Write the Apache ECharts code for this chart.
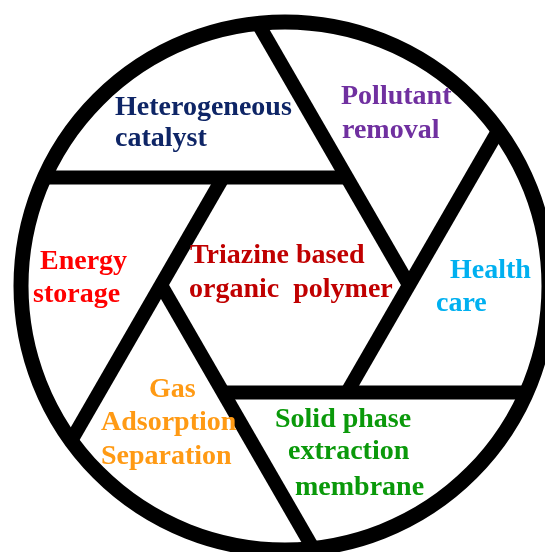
<!DOCTYPE html>
<html>
<head>
<meta charset="utf-8">
<script src="https://cdn.jsdelivr.net/npm/echarts@6/dist/echarts.min.js"></script>
<style>
  html, body { margin: 0; padding: 0; background: #fff; }
  #main { width: 545px; height: 552px; }
</style>
</head>
<body>
<div id="main"></div>
<script>
// topics around the aperture, clockwise from top-left, plus the centre one
var topicLines = [
  ['Heterogeneous', 'catalyst'],
  ['Pollutant', 'removal'],
  ['Health', 'care'],
  ['Solid phase', 'extraction', 'membrane'],
  ['Gas', 'Adsorption', 'Separation'],
  ['Energy', 'storage'],
  ['Triazine based', 'organic  polymer']
];
var topicColors = ['#0e2566', '#7030a0', '#00b0f0', '#0a990a', '#ff9a14', '#ff0000', '#c00000'];

// where each text line starts: [left x, baseline y]
var textPos = [
  [[115, 117], [115, 148]],
  [[341, 106], [342, 140]],
  [[450, 280], [436, 313]],
  [[275, 429], [288, 461], [295, 497]],
  [[149, 399], [101, 432], [101, 466]],
  [[40, 271], [33, 304]],
  [[190, 265], [189, 299]]
];

// geometry of the shutter
var circleC = [285, 286], circleR = 264;
var hexC = [285, 285], hexR = 124;

var chart = echarts.init(document.getElementById('main'));

// hexagon corners, angle 0 = right, going clockwise on screen
var hex = [];
for (var k = 0; k < 6; k++) {
  var a = k * Math.PI / 3;
  hex.push([hexC[0] + hexR * Math.cos(a), hexC[1] + hexR * Math.sin(a)]);
}

// a blade starts at a corner, runs through the previous corner and on to the rim
function toRim(p, q) {
  var dx = q[0] - p[0], dy = q[1] - p[1];
  var len = Math.sqrt(dx * dx + dy * dy);
  dx /= len; dy /= len;
  var fx = p[0] - circleC[0], fy = p[1] - circleC[1];
  var b = fx * dx + fy * dy;
  var c = fx * fx + fy * fy - circleR * circleR;
  var t = -b + Math.sqrt(b * b - c);
  return [p[0] + t * dx, p[1] + t * dy];
}

var series = [];
for (var i = 0; i < 6; i++) {
  var p = hex[i];
  var q = hex[(i + 5) % 6];
  series.push({
    type: 'line',
    data: [p, toRim(p, q)],
    symbol: 'none',
    silent: true,
    lineStyle: { color: '#000', width: 14, cap: 'butt' },
    z: 3
  });
}

// outer ring
series.push({
  type: 'custom',
  data: [circleC],
  silent: true,
  z: 4,
  renderItem: function (params, api) {
    var c = api.coord([api.value(0), api.value(1)]);
    var r = api.size([circleR, 0])[0];
    return {
      type: 'circle',
      shape: { cx: c[0], cy: c[1], r: r },
      style: { fill: 'none', stroke: '#000', lineWidth: 15 }
    };
  }
});

// text
var textData = [];
topicLines.forEach(function (lines, n) {
  lines.forEach(function (txt, j) {
    var pos = textPos[n][j];
    textData.push({
      value: [pos[0], pos[1] - 9.5],
      name: txt,
      label: { color: topicColors[n] }
    });
  });
});
series.push({
  type: 'scatter',
  data: textData,
  symbolSize: 0,
  silent: true,
  z: 5,
  itemStyle: { opacity: 1 },
  label: {
    show: true,
    position: 'right',
    distance: 0,
    formatter: function (p) { return p.name; },
    fontFamily: 'Liberation Serif',
    fontWeight: 'bold',
    fontSize: 28
  }
});

chart.setOption({
  animation: false,
  backgroundColor: '#fff',
  grid: { left: 0, right: 0, top: 0, bottom: 0 },
  xAxis: { type: 'value', min: 0, max: 545, show: false },
  yAxis: { type: 'value', min: 0, max: 552, inverse: true, show: false },
  series: series
});
</script>
</body>
</html>
